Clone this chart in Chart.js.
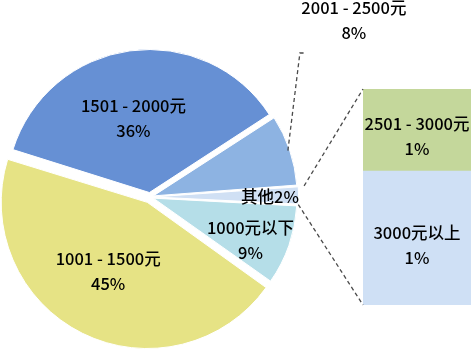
<!DOCTYPE html>
<html><head><meta charset="utf-8">
<script src="https://cdn.jsdelivr.net/npm/chart.js@4"></script>
<style>
html,body{margin:0;padding:0;background:#fff;}
#wrap{position:relative;width:472px;height:351px;overflow:hidden;}
#wrap canvas{position:absolute;left:0;top:0;}
</style></head><body>
<div id="wrap"><canvas id="pie" width="472" height="351"></canvas><canvas id="bar" width="472" height="351"></canvas></div>
<script>
// ---- data ----
const pieLabels = ['2001 - 2500元', '其他', '1000元以下', '1001 - 1500元', '1501 - 2000元'];
const pieValues = [8, 2, 9, 45, 36];
const barLabels = ['3000元以上', '2501 - 3000元'];
const barValues = [1.24, 0.76];

// ---- styles ----
const pieColors = ['#8db3e2', '#d0e0f4', '#b5dee8', '#e6e385', '#6690d4'];
const pieOffsets = [14, 14, 14, 24, 18];   // Chart.js translates by offset/4
const barColors = ['#cfe0f5', '#c4d79b'];
const FONT = '500 16.5px "Noto Sans CJK SC", "Noto Sans", sans-serif';
const TEXT = '#000000';
const LINE = '#4a4a4a';
const LINE_W = 1.3;
const DASH = [4, 3];
// label placement: radial fraction and angle shift (deg) per slice (null = outside label)
const labelFrac = [null, 0.845, 0.77, 0.60, 0.57];
const labelShift = [0, 0.6, 4, 3, -4];
const labelTwoLine = [true, false, true, true, true];

function pct(v){ return Math.round(v) + '%'; }

function drawLines(ctx, lines, x, y, lh){
  const n = lines.length;
  lines.forEach((t, i) => ctx.fillText(t, x, y + (i - (n - 1) / 2) * lh));
}

const pieLabelPlugin = {
  id: 'pieLabels',
  afterDatasetsDraw(chart){
    const ctx = chart.ctx;
    const meta = chart.getDatasetMeta(0);
    ctx.save();
    ctx.font = FONT;
    ctx.fillStyle = TEXT;
    ctx.textAlign = 'center';
    ctx.textBaseline = 'middle';
    meta.data.forEach((arc, i) => {
      const p = arc.getProps(['x','y','startAngle','endAngle','outerRadius'], true);
      const mid = (p.startAngle + p.endAngle) / 2;
      const tr = (arc.options.offset || 0) / 4;
      const v = pieValues[i];
      if (labelFrac[i] === null) {
        const r0 = p.outerRadius + tr;
        const x0 = p.x + Math.cos(mid) * r0, y0 = p.y + Math.sin(mid) * r0;
        const x1 = x0 + 12, y1 = 53;
        ctx.save();
        ctx.strokeStyle = LINE; ctx.lineWidth = LINE_W; ctx.setLineDash(DASH);
        ctx.beginPath(); ctx.moveTo(x0, y0); ctx.lineTo(x1, y1); ctx.lineTo(x1 + 6, y1); ctx.stroke();
        ctx.restore();
        drawLines(ctx, [pieLabels[i], pct(v)], x1 + 54, 20, 25);
      } else {
        const a = mid + labelShift[i] * Math.PI / 180;
        const r = labelFrac[i] * p.outerRadius;
        const x = p.x + Math.cos(a) * r, y = p.y + Math.sin(a) * r;
        if (labelTwoLine[i]) drawLines(ctx, [pieLabels[i], pct(v)], x, y, 25);
        else drawLines(ctx, [pieLabels[i] + pct(v)], x, y, 25);
      }
    });
    ctx.restore();
  }
};

const pieChart = new Chart(document.getElementById('pie'), {
  type: 'pie',
  data: { labels: pieLabels, datasets: [{
    data: pieValues, backgroundColor: pieColors, borderColor: '#ffffff', borderWidth: 1,
    offset: pieOffsets, hoverOffset: 0, radius: 142
  }]},
  options: {
    responsive: false, animation: false, events: [], devicePixelRatio: 1,
    rotation: 57, radius: 142,
    layout: { padding: { left: 0, right: 172, top: 43, bottom: 0 } },
    plugins: { legend: { display: false }, tooltip: { enabled: false } }
  },
  plugins: [pieLabelPlugin]
});

const barPlugin = {
  id: 'barExtras',
  afterDatasetsDraw(chart){
    const ctx = chart.ctx;
    const bottomBar = chart.getDatasetMeta(0).data[0].getProps(['x','y','base','width'], true);
    const topBar = chart.getDatasetMeta(1).data[0].getProps(['x','y','base','width'], true);
    const left = topBar.x - topBar.width / 2;
    // connectors from the "其他" slice of the pie
    const otherEl = pieChart.getDatasetMeta(0).data[1];
    const other = otherEl.getProps(['x','y','startAngle','endAngle','outerRadius'], true);
    const tr = (otherEl.options.offset || 0) / 4;
    const midO = (other.startAngle + other.endAngle) / 2;
    const cx = other.x + Math.cos(midO) * tr, cy = other.y + Math.sin(midO) * tr;
    const rA = other.outerRadius + 9, rB = other.outerRadius + 3;
    ctx.save();
    ctx.strokeStyle = LINE; ctx.lineWidth = LINE_W; ctx.setLineDash(DASH);
    ctx.beginPath();
    ctx.moveTo(cx + Math.cos(other.startAngle) * rA, cy + Math.sin(other.startAngle) * rA);
    ctx.lineTo(left, topBar.y);
    ctx.moveTo(cx + Math.cos(other.endAngle) * rB, cy + Math.sin(other.endAngle) * rB);
    ctx.lineTo(left, bottomBar.base);
    ctx.stroke();
    ctx.restore();
    // bar labels
    ctx.save();
    ctx.font = FONT; ctx.fillStyle = TEXT; ctx.textAlign = 'center'; ctx.textBaseline = 'middle';
    [bottomBar, topBar].forEach((b, i) => {
      drawLines(ctx, [barLabels[i], pct(barValues[i])], b.x, (b.y + b.base) / 2 + (i === 0 ? 7 : 6), 25);
    });
    ctx.restore();
  }
};

new Chart(document.getElementById('bar'), {
  type: 'bar',
  data: { labels: [''], datasets: barValues.map((v, i) => ({
    label: barLabels[i], data: [v], backgroundColor: barColors[i], borderWidth: 0,
    barPercentage: 1, categoryPercentage: 1
  }))},
  options: {
    responsive: false, animation: false, events: [], devicePixelRatio: 1,
    layout: { padding: { left: 363, right: 1, top: 89, bottom: 46 } },
    scales: {
      x: { stacked: true, display: false },
      y: { stacked: true, display: false, min: 0, max: barValues.reduce((a, b) => a + b, 0) }
    },
    plugins: { legend: { display: false }, tooltip: { enabled: false } }
  },
  plugins: [barPlugin]
});
</script>
</body></html>
